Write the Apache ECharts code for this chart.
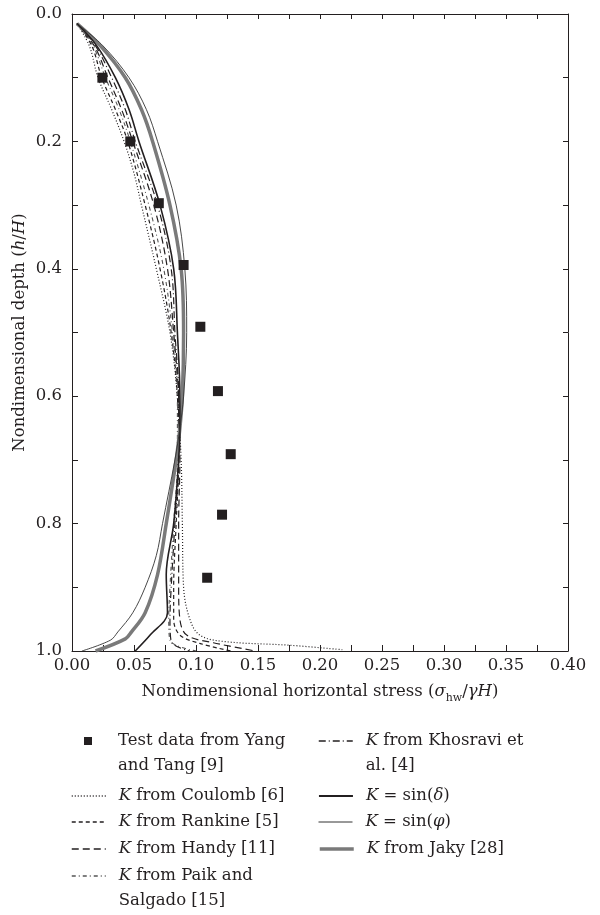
<!DOCTYPE html>
<html>
<head>
<meta charset="utf-8">
<title>Nondimensional horizontal stress</title>
<script src="https://cdn.jsdelivr.net/npm/echarts@6/dist/echarts.min.js"></script>
<style>
  html, body { margin: 0; padding: 0; background: #fff; }
  #chart { width: 600px; height: 915px; }
</style>
</head>
<body>
<div id="chart"></div>
<script>
var FONT = 'DejaVu Serif';
var FS = 16.5;
var INK = '#231f20';

// test data (squares)
var testDepth  = [0.1, 0.2, 0.297, 0.394, 0.491, 0.592, 0.691, 0.786, 0.885];
var testStress = [0.0245, 0.047, 0.070, 0.090, 0.1035, 0.1177, 0.128, 0.121, 0.109];

// K from Coulomb [6]
var coulombDepth  = [0.015, 0.05, 0.1, 0.15, 0.2, 0.25, 0.3, 0.4, 0.5, 0.6, 0.7, 0.8, 0.9, 0.95, 0.975, 0.985, 0.991, 0.998];
var coulombStress = [0.004, 0.014, 0.021, 0.032, 0.042, 0.050, 0.056, 0.068, 0.079, 0.085, 0.088, 0.089, 0.090, 0.095, 0.103, 0.122, 0.176, 0.218];

// K from Rankine [5]
var rankineDepth  = [0.015, 0.05, 0.1, 0.15, 0.2, 0.3, 0.4, 0.5, 0.6, 0.7, 0.8, 0.9, 0.95, 0.975, 0.988, 1.0];
var rankineStress = [0.004, 0.016, 0.024, 0.035, 0.045, 0.059, 0.071, 0.080, 0.085, 0.086, 0.084, 0.082, 0.082, 0.087, 0.103, 0.128];

// K from Handy [11]
var handyDepth  = [0.015, 0.05, 0.1, 0.15, 0.2, 0.3, 0.4, 0.5, 0.6, 0.7, 0.8, 0.9, 0.95, 0.975, 0.987, 1.0];
var handyStress = [0.004, 0.018, 0.029, 0.040, 0.049, 0.066, 0.077, 0.082, 0.086, 0.087, 0.086, 0.086, 0.087, 0.0925, 0.114, 0.148];

// K from Paik and Salgado [15]
var paikDepth  = [0.015, 0.05, 0.1, 0.15, 0.2, 0.3, 0.4, 0.5, 0.6, 0.7, 0.8, 0.9, 0.95, 0.983, 1.0];
var paikStress = [0.004, 0.017, 0.027, 0.038, 0.047, 0.062, 0.074, 0.081, 0.085, 0.085, 0.082, 0.079, 0.078, 0.079, 0.100];

// K from Khosravi et al. [4]
var khosraviDepth  = [0.015, 0.05, 0.1, 0.15, 0.2, 0.3, 0.4, 0.5, 0.6, 0.7, 0.8, 0.9, 0.95, 0.985, 1.0];
var khosraviStress = [0.004, 0.019, 0.032, 0.043, 0.051, 0.069, 0.080, 0.083, 0.086, 0.086, 0.083, 0.080, 0.079, 0.080, 0.095];

// K = sin(delta)
var sinDeltaDepth  = [0.015, 0.05, 0.1, 0.15, 0.2, 0.3, 0.4, 0.5, 0.6, 0.65, 0.7, 0.8, 0.88, 0.94, 0.975, 1.0];
var sinDeltaStress = [0.004, 0.020, 0.035, 0.046, 0.054, 0.071, 0.082, 0.085, 0.087, 0.087, 0.086, 0.082, 0.076, 0.077, 0.063, 0.051];

// K = sin(phi)
var sinPhiDepth  = [0.015, 0.05, 0.1, 0.15, 0.2, 0.3, 0.4, 0.5, 0.6, 0.65, 0.7, 0.8, 0.85, 0.9, 0.94, 0.97, 0.983, 1.0];
var sinPhiStress = [0.004, 0.025, 0.046, 0.060, 0.069, 0.084, 0.091, 0.0925, 0.090, 0.087, 0.083, 0.073, 0.068, 0.059, 0.049, 0.037, 0.031, 0.008];

// K from Jaky [28]
var jakyDepth  = [0.015, 0.05, 0.1, 0.15, 0.2, 0.3, 0.4, 0.5, 0.6, 0.65, 0.7, 0.8, 0.88, 0.94, 0.97, 0.981, 1.0];
var jakyStress = [0.004, 0.023, 0.043, 0.056, 0.065, 0.079, 0.088, 0.090, 0.089, 0.087, 0.084, 0.076, 0.069, 0.059, 0.048, 0.043, 0.019];

function pairs(xs, ys) {
    return xs.map(function (x, i) { return [x, ys[i]]; });
}

var richText = {
    n: { fontFamily: FONT, fontSize: FS, color: INK, lineHeight: 25 },
    i: { fontFamily: FONT, fontSize: FS, color: INK, fontStyle: 'italic', lineHeight: 25 },
    s: { fontFamily: FONT, fontSize: 11, color: INK, lineHeight: 12, verticalAlign: 'bottom' }
};

var legendText = {
    'Test data from Yang and Tang [9]': '{n|Test data from Yang}\n{n|and Tang [9]}',
    'K from Coulomb [6]': '{i|K}{n| from Coulomb [6]}',
    'K from Rankine [5]': '{i|K}{n| from Rankine [5]}',
    'K from Handy [11]': '{i|K}{n| from Handy [11]}',
    'K from Paik and Salgado [15]': '{i|K}{n| from Paik and}\n{n|Salgado [15]}',
    'K from Khosravi et al. [4]': '{i|K}{n| from Khosravi et}\n{n|al. [4]}',
    'K = sin(δ)': '{i|K}{n| = sin(}{i|δ}{n|)}',
    'K = sin(φ)': '{i|K}{n| = sin(}{i|φ}{n|)}',
    'K from Jaky [28]': '{i|K}{n| from Jaky [28]}'
};

// one legend block per entry so the two columns line up like the figure
function legendEntry(name, left, centerY, twoLines, opts) {
    opts = opts || {};
    var top = twoLines ? centerY - 37.5 : centerY - 12.5;
    var item = { name: name };
    if (opts.icon) item.icon = opts.icon;
    var padLeft = opts.padLeft || 8;
    return {
        data: [item],
        left: left,
        top: top,
        padding: 0,
        selectedMode: false,
        itemWidth: opts.itemWidth || 34,
        itemHeight: opts.itemHeight || 14,
        itemStyle: opts.itemStyle || { opacity: 0 },
        lineStyle: { width: opts.lineWidth || 1.5 },
        formatter: function (n) { return legendText[n]; },
        textStyle: {
            fontFamily: FONT, fontSize: FS, color: INK, lineHeight: 25,
            padding: twoLines ? [25, 0, 0, padLeft] : [0, 0, 0, padLeft],
            rich: richText
        }
    };
}

var legends = [
    legendEntry('Test data from Yang and Tang [9]', 84, 741, true,
        { icon: 'rect', itemWidth: 8, itemHeight: 8, padLeft: 21, itemStyle: { opacity: 1 } }),
    legendEntry('K from Coulomb [6]', 71, 796, false),
    legendEntry('K from Rankine [5]', 71, 822, false),
    legendEntry('K from Handy [11]', 71, 849, false),
    legendEntry('K from Paik and Salgado [15]', 71, 876, true),
    legendEntry('K from Khosravi et al. [4]', 318, 741, true),
    legendEntry('K = sin(δ)', 318, 796, false, { lineWidth: 1.9 }),
    legendEntry('K = sin(φ)', 318, 822, false, { lineWidth: 1 }),
    legendEntry('K from Jaky [28]', 318, 849, false, { lineWidth: 3.5 })
];

function curve(name, xs, ys, lineStyle, z) {
    return {
        name: name,
        type: 'line',
        symbol: 'none',
        smooth: 0.35,
        data: pairs(xs, ys),
        lineStyle: lineStyle,
        itemStyle: { color: lineStyle.color },
        color: lineStyle.color,
        z: z || 2,
        silent: true
    };
}

var chart = echarts.init(document.getElementById('chart'));
var option = {
    backgroundColor: '#fff',
    animation: false,
    grid: { left: 72, right: 32, top: 14, bottom: 264, containLabel: false, outerBoundsMode: 'none' },
    legend: legends,
    xAxis: [
        {
            type: 'value', position: 'bottom', min: 0, max: 0.4, interval: 0.05,
            axisLine: { show: true, onZero: false, lineStyle: { color: INK, width: 1 } },
            axisTick: { show: true, inside: true, length: 6, lineStyle: { color: INK } },
            minorTick: { show: true, splitNumber: 2, length: 6, lineStyle: { color: INK } },
            splitLine: { show: false },
            axisLabel: {
                fontFamily: FONT, fontSize: FS, color: INK, margin: 6,
                showMinLabel: true, showMaxLabel: true,
                formatter: function (v) { return v.toFixed(2); }
            },
            name: '{n|Nondimensional horizontal stress (}{i|σ}{s|hw}{n|/}{i|γH}{n|)}',
            nameLocation: 'middle', nameGap: 28, nameMoveOverlap: false,
            nameTextStyle: { rich: richText }
        },
        {
            type: 'value', position: 'top', min: 0, max: 0.4, interval: 0.05,
            axisLine: { show: true, onZero: false, lineStyle: { color: INK, width: 1 } },
            axisTick: { show: true, inside: true, length: 5, lineStyle: { color: INK } },
            minorTick: { show: true, splitNumber: 2, length: 5, lineStyle: { color: INK } },
            splitLine: { show: false },
            axisLabel: { show: false }
        }
    ],
    yAxis: [
        {
            type: 'value', position: 'left', inverse: true, min: 0, max: 1, interval: 0.2,
            axisLine: { show: true, onZero: false, lineStyle: { color: INK, width: 1 } },
            axisTick: { show: true, inside: true, length: 6, lineStyle: { color: INK } },
            minorTick: { show: true, splitNumber: 2, length: 6, lineStyle: { color: INK } },
            splitLine: { show: false },
            axisLabel: {
                fontFamily: FONT, fontSize: FS, color: INK, margin: 10,
                showMinLabel: true, showMaxLabel: true,
                formatter: function (v) { return v.toFixed(1); }
            },
            name: '{n|Nondimensional depth (}{i|h}{n|/}{i|H}{n|)}',
            nameLocation: 'middle', nameGap: 40, nameRotate: 90, nameMoveOverlap: false,
            nameTextStyle: { rich: richText }
        },
        {
            type: 'value', position: 'right', inverse: true, min: 0, max: 1, interval: 0.2,
            axisLine: { show: true, onZero: false, lineStyle: { color: INK, width: 1 } },
            axisTick: { show: true, inside: true, length: 5, lineStyle: { color: INK } },
            minorTick: { show: true, splitNumber: 2, length: 5, lineStyle: { color: INK } },
            splitLine: { show: false },
            axisLabel: { show: false }
        }
    ],
    series: [
        {
            name: 'Test data from Yang and Tang [9]',
            type: 'scatter',
            symbol: 'rect',
            symbolSize: 10,
            itemStyle: { color: INK, opacity: 1 },
            data: pairs(testStress, testDepth),
            z: 5,
            silent: true
        },
        curve('K from Coulomb [6]', coulombStress, coulombDepth, { color: INK, width: 1.2, type: [1, 2] }),
        curve('K from Rankine [5]', rankineStress, rankineDepth, { color: INK, width: 1.2, type: [4, 3] }),
        curve('K from Handy [11]', handyStress, handyDepth, { color: INK, width: 1.2, type: [7, 4] }),
        curve('K from Paik and Salgado [15]', paikStress, paikDepth, { color: '#555', width: 1.1, type: [4, 3, 1, 3] }),
        curve('K from Khosravi et al. [4]', khosraviStress, khosraviDepth, { color: INK, width: 1.2, type: [7, 3, 1, 3] }),
        curve('K = sin(δ)', sinDeltaStress, sinDeltaDepth, { color: INK, width: 1.6 }, 3),
        curve('K = sin(φ)', sinPhiStress, sinPhiDepth, { color: '#333', width: 0.9 }, 3),
        curve('K from Jaky [28]', jakyStress, jakyDepth, { color: '#7a7a7a', width: 3.5 }, 2)
    ]
};
chart.setOption(option);
</script>
</body>
</html>
